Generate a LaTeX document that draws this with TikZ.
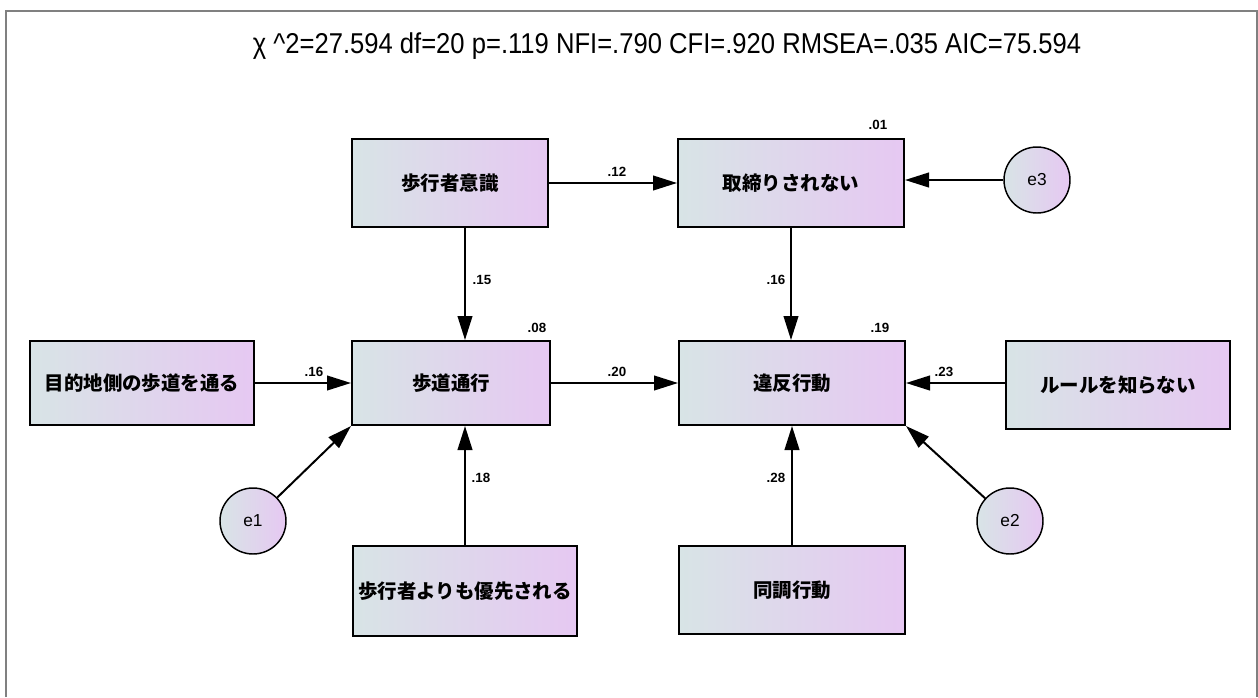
\documentclass[tikz,border=0pt]{standalone}
\usepackage{fontspec}
\setmainfont{Liberation Sans}
\newfontfamily\jpfont{Noto Sans CJK JP}
\usetikzlibrary{arrows.meta}
\definecolor{gl}{RGB}{216,228,230}
\definecolor{gr}{RGB}{230,200,242}
\definecolor{framegray}{RGB}{128,128,128}
\tikzset{
  varbox/.style={draw=black, line width=1.5pt, left color=gl, right color=gr, inner sep=0pt, font=\jpfont\fontsize{14.6pt}{17pt}\selectfont\bfseries},
  errc/.style={circle, draw=black, line width=1.1pt, minimum size=49.5pt, inner sep=0pt, shading=axis, shading angle=45, left color=gl, right color=gr, font=\fontsize{13pt}{15pt}\selectfont},
  arr/.style={line width=1.5pt, -{Triangle[length=18pt,width=11pt]}},
  coef/.style={font=\fontsize{10pt}{12pt}\selectfont\bfseries, inner sep=0pt}
}
\begin{document}
\begin{tikzpicture}[x=0.75pt,y=-0.75pt]
\useasboundingbox (0,0) rectangle (1258,697);
\draw[framegray, line width=1.5pt] (6,697) -- (6,11) -- (1257,11) -- (1257,697);
\node[font=\fontsize{19.2pt}{22pt}\selectfont] (title) at (667,46) {\scalebox{1}[1.12]{χ \^{}2=27.594 df=20 p=.119 NFI=.790 CFI=.920 RMSEA=.035 AIC=75.594}};

\node[varbox, minimum width=147pt, minimum height=66pt] (A) at (450,183) {歩行者意識};
\node[varbox, minimum width=169.5pt, minimum height=66pt] (B) at (791,183) {取締りされない};
\node[varbox, minimum width=168pt, minimum height=63pt] (C) at (142,383) {目的地側の歩道を通る};
\node[varbox, minimum width=148.5pt, minimum height=63pt] (D) at (451,383) {歩道通行};
\node[varbox, minimum width=169.5pt, minimum height=63pt] (E) at (792,383) {違反行動};
\node[varbox, minimum width=168pt, minimum height=66pt] (F) at (1118,385) {ルールを知らない};
\node[varbox, minimum width=168pt, minimum height=67.5pt] (G) at (465,591) {歩行者よりも優先される};
\node[varbox, minimum width=169.5pt, minimum height=66pt] (H) at (792,590) {同調行動};

\node[errc] (e1) at (253,521) {e1};
\node[errc] (e2) at (1010,521) {e2};
\node[errc] (e3) at (1037,180) {e3};

\draw[arr] (A.east) -- (B.west);
\draw[arr] (e3.west) -- (B.east |- e3.west);
\draw[arr] (A.south -| G.north) -- (D.north -| G.north);
\draw[arr] (B.south) -- (E.north -| B.south);
\draw[arr] (C.east) -- (D.west);
\draw[arr] (D.east) -- (E.west);
\draw[arr] (F.west |- E.east) -- (E.east);
\draw[arr] (e1) -- (D.south west);
\draw[arr] (G.north) -- (D.south -| G.north);
\draw[arr] (H.north) -- (E.south -| H.north);
\draw[arr] (e2) -- (E.south east);

\node[coef] (c1) at (617,172) {.12};
\node[coef] (c2) at (482,280) {.15};
\node[coef] (c3) at (776,280) {.16};
\node[coef] (c4) at (314,372) {.16};
\node[coef] (c5) at (617,372) {.20};
\node[coef] (c6) at (944,372) {.23};
\node[coef] (c7) at (481,478) {.18};
\node[coef] (c8) at (776,478) {.28};
\node[coef] (r1) at (537,328) {.08};
\node[coef] (r2) at (880,328) {.19};
\node[coef] (r3) at (878,125) {.01};
\end{tikzpicture}
\end{document}
